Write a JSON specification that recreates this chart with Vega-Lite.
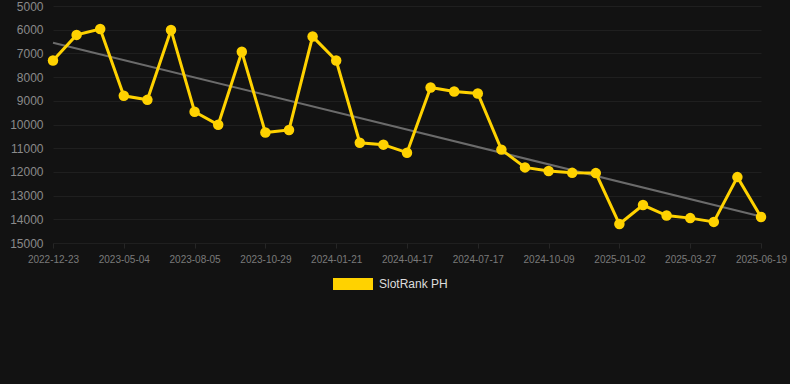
{
  "$schema": "https://vega.github.io/schema/vega-lite/v6.json",
  "width": 743,
  "height": 237,
  "autosize": {"type": "none"},
  "padding": {"left": 47, "top": 6, "right": 0, "bottom": 141},
  "background": "#121212",
  "config": {
    "view": {"stroke": null},
    "font": "Liberation Sans",
    "axis": {"gridColor": "#1f1f1f", "gridWidth": 1, "domain": false, "tickColor": "#262626", "labelFont": "Liberation Sans"}
  },
  "datasets": {
    "ranks": [
      {"date": "2022-12-23", "rank": 7300, "series": "SlotRank PH"},
      {"date": "2023-02-05", "rank": 6220, "series": "SlotRank PH"},
      {"date": "2023-03-21", "rank": 5970, "series": "SlotRank PH"},
      {"date": "2023-05-04", "rank": 8790, "series": "SlotRank PH"},
      {"date": "2023-06-04", "rank": 8960, "series": "SlotRank PH"},
      {"date": "2023-07-05", "rank": 6010, "series": "SlotRank PH"},
      {"date": "2023-08-05", "rank": 9460, "series": "SlotRank PH"},
      {"date": "2023-09-02", "rank": 10010, "series": "SlotRank PH"},
      {"date": "2023-10-01", "rank": 6930, "series": "SlotRank PH"},
      {"date": "2023-10-29", "rank": 10340, "series": "SlotRank PH"},
      {"date": "2023-11-26", "rank": 10230, "series": "SlotRank PH"},
      {"date": "2023-12-24", "rank": 6290, "series": "SlotRank PH"},
      {"date": "2024-01-21", "rank": 7300, "series": "SlotRank PH"},
      {"date": "2024-02-19", "rank": 10770, "series": "SlotRank PH"},
      {"date": "2024-03-19", "rank": 10850, "series": "SlotRank PH"},
      {"date": "2024-04-17", "rank": 11190, "series": "SlotRank PH"},
      {"date": "2024-05-17", "rank": 8440, "series": "SlotRank PH"},
      {"date": "2024-06-16", "rank": 8610, "series": "SlotRank PH"},
      {"date": "2024-07-17", "rank": 8690, "series": "SlotRank PH"},
      {"date": "2024-08-14", "rank": 11060, "series": "SlotRank PH"},
      {"date": "2024-09-11", "rank": 11810, "series": "SlotRank PH"},
      {"date": "2024-10-09", "rank": 11960, "series": "SlotRank PH"},
      {"date": "2024-11-06", "rank": 12040, "series": "SlotRank PH"},
      {"date": "2024-12-04", "rank": 12050, "series": "SlotRank PH"},
      {"date": "2025-01-02", "rank": 14200, "series": "SlotRank PH"},
      {"date": "2025-01-30", "rank": 13400, "series": "SlotRank PH"},
      {"date": "2025-02-27", "rank": 13840, "series": "SlotRank PH"},
      {"date": "2025-03-27", "rank": 13950, "series": "SlotRank PH"},
      {"date": "2025-04-24", "rank": 14110, "series": "SlotRank PH"},
      {"date": "2025-05-22", "rank": 12220, "series": "SlotRank PH"},
      {"date": "2025-06-19", "rank": 13900, "series": "SlotRank PH"}
    ],
    "trend": [
      {"date": "2022-12-23", "rank": 6550},
      {"date": "2025-06-19", "rank": 13880}
    ]
  },
  "encoding": {
    "x": {
      "field": "date", "type": "ordinal", "sort": "ascending",
      "scale": {"type": "point", "range": [6, 714], "padding": 0},
      "axis": {
        "title": null, "labelAngle": 0, "labelColor": "#7a7a7a", "labelFontSize": 10, "labelPadding": 6, "tickSize": 5,
        "values": ["2022-12-23","2023-05-04","2023-08-05","2023-10-29","2024-01-21","2024-04-17","2024-07-17","2024-10-09","2025-01-02","2025-03-27","2025-06-19"]
      }
    },
    "y": {
      "field": "rank", "type": "quantitative",
      "scale": {"domain": [5000, 15000], "reverse": true, "nice": false, "zero": false},
      "axis": {"title": null, "values": [5000,6000,7000,8000,9000,10000,11000,12000,13000,14000,15000], "labelColor": "#8a8a8a", "labelFontSize": 12, "ticks": false, "labelPadding": 4, "format": "d"}
    }
  },
  "layer": [
    {
      "data": {"name": "trend"},
      "mark": {"type": "line", "color": "#6b6b6b", "strokeWidth": 2},
      "encoding": {}
    },
    {
      "data": {"name": "ranks"},
      "mark": {"type": "line", "strokeWidth": 3, "point": {"filled": true, "size": 110, "opacity": 1}},
      "encoding": {
        "color": {
          "field": "series", "type": "nominal",
          "scale": {"range": ["#FFD200"]},
          "legend": {
            "title": null, "orient": "none", "legendX": 286, "legendY": 258,
            "symbolType": "M-1,-0.3H1V0.3H-1Z", "symbolSize": 1600, "symbolStrokeWidth": 0,
            "symbolFillColor": "#FFD200", "labelColor": "#dddddd", "labelFontSize": 12, "labelOffset": 6
          }
        }
      }
    }
  ]
}
